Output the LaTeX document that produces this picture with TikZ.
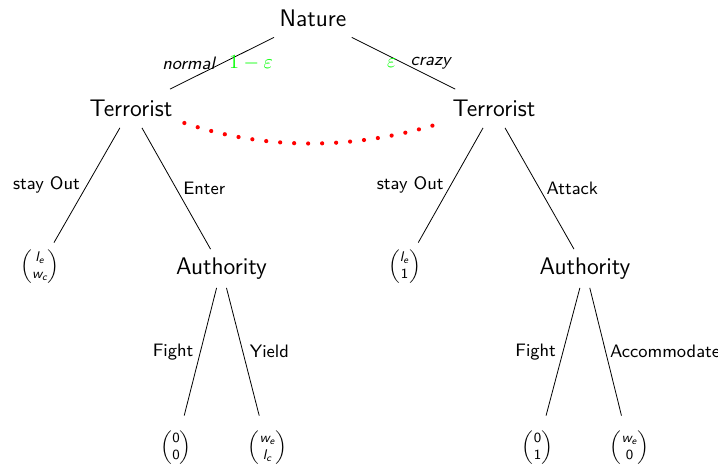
\documentclass[tikz,border=0pt]{standalone}
\usepackage{amsmath}
\newcommand{\sv}[1]{\textsf{\itshape #1}}
\newcommand{\payoff}[2]{$\begin{pmatrix}#1\\#2\end{pmatrix}$}

\begin{document}
\begin{tikzpicture}[x=0.5pt,y=-0.5pt]
	\tikzset{player/.style={font=\fontsize{12}{14}\selectfont\sffamily, minimum height=19pt}}
	\tikzset{leaf/.style={font=\fontsize{7}{8.5}\selectfont, minimum height=24pt}}
	\tikzset{lowleaf/.style={leaf, minimum height=32pt}} %last row sits lower
	\tikzset{act/.style={font=\fontsize{9}{11}\selectfont\sffamily}}
	\tikzset{prob/.style={font=\fontsize{10}{12}\selectfont, text=green}}
	\tikzset{infoset/.style={red, line width=2.1pt, line cap=round, dash pattern=on 0pt off 7pt}}
	\useasboundingbox (0,0) rectangle (718,465);

	\node[player] (nat) at (313,18) {Nature};
	\node[player] (ter1) at (131,108.5) {Terrorist};
	\node[player] (ter2) at (494,108.5) {Terrorist};
	\node[player] (auth1) at (221.5,268.5) {Authority};
	\node[player] (auth2) at (585,268.5) {Authority};

	\node[leaf] (out1) at (40,267) {\payoff{\sv{l}_{\sv{e}}}{\sv{w}_{\sv{c}}}};
	\node[leaf] (out2) at (404.5,267) {\payoff{\sv{l}_{\sv{e}}}{\textsf{1}}};
	\node[lowleaf] (fight1) at (176,448) {\payoff{\textsf{0}}{\textsf{0}}};
	\node[lowleaf] (yield1) at (267.5,448) {\payoff{\sv{w}_{\sv{e}}}{\sv{l}_{\sv{c}}}};
	\node[lowleaf] (fight2) at (537.5,448) {\payoff{\textsf{0}}{\textsf{1}}};
	\node[lowleaf] (acc2) at (629.5,448) {\payoff{\sv{w}_{\sv{e}}}{\textsf{0}}};

	\draw (nat) -- node[act, left] {\itshape normal} node[prob, right] {$1-\varepsilon$} (ter1);
	\draw (nat) -- node[prob, left] {$\varepsilon$} node[act, right] {\itshape crazy} (ter2);
	\draw (ter1) -- node[act, left] {stay Out} (out1);
	\draw (ter1) -- node[act, right] {Enter} (auth1);
	\draw (ter2) -- node[act, left] {stay Out} (out2);
	\draw (ter2) -- node[act, right] {Attack} (auth2);
	\draw (auth1) -- node[act, left] {Fight} (fight1);
	\draw (auth1) -- node[act, right] {Yield} (yield1);
	\draw (auth2) -- node[act, left] {Fight} (fight2);
	\draw (auth2) -- node[act, right, inner sep=2pt] {Accommodate} (acc2);

	\draw[infoset] ([shift={(5,14.5)}]ter1.east) .. controls +(80,27) and +(-84,25) .. ([shift={(-11,16.5)}]ter2.west);
\end{tikzpicture}
\end{document}
